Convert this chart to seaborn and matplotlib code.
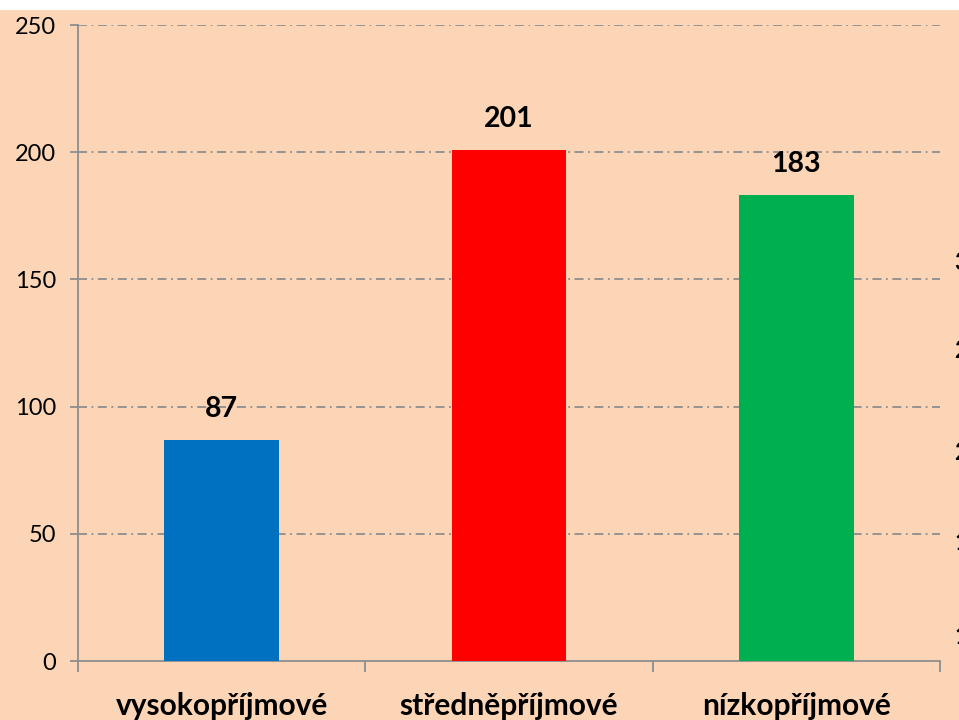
import matplotlib
matplotlib.use("Agg")
import matplotlib.pyplot as plt
import seaborn as sns
from matplotlib.patches import Rectangle

categories = ["vysokopříjmové", "středněpříjmové", "nízkopříjmové"]
values = [87, 201, 183]
colors = ["#0070C0", "#FF0000", "#00B050"]
yticks = [0, 50, 100, 150, 200, 250]
edge_labels = ["3", "2", "2", "1", "1"]

sns.set_theme(style="white")
plt.rcParams["font.family"] = ["Lato", "DejaVu Sans"]
plt.rcParams["text.color"] = "black"
plt.rcParams["xtick.color"] = "black"
plt.rcParams["ytick.color"] = "black"

bg = "#FBD5B5"
grid_c = "#8E8E8E"

fig = plt.figure(figsize=(9.59, 7.2), dpi=100)
fig.patch.set_facecolor("white")
fig.patches.append(Rectangle((0, 0), 1, 710 / 720, transform=fig.transFigure,
                             facecolor=bg, edgecolor="none", zorder=-10))

ax = fig.add_axes([78 / 959, 59 / 720, (940 - 78) / 959, (661 - 25) / 720])
ax.set_facecolor("none")

sns.barplot(x=categories, y=values, hue=categories, palette=colors,
            width=0.4, legend=False, ax=ax, saturation=1, zorder=3,
            linewidth=0, edgecolor="none")

ax.set_xlim(-0.5, 2.5)
ax.set_ylim(0, 250)
ax.set_yticks(yticks)
ax.set_yticklabels([str(t) for t in yticks], fontsize=17, color="black")

for t in yticks[1:]:
    ax.axhline(t, color=grid_c, lw=1.3, dashes=(5, 2.5, 1, 2.5), zorder=1)

ax.set_xticks([-0.5, 0.5, 1.5, 2.5])
ax.set_xticklabels([])
ax.set_xticks([0, 1, 2], minor=True)
ax.set_xticklabels(categories, minor=True, fontsize=21.5, fontweight="bold",
                   color="black")
ax.tick_params(axis="x", which="major", direction="out", length=8, width=1.3,
               color=grid_c, bottom=True)
ax.tick_params(axis="x", which="minor", length=0, pad=22, bottom=True)
ax.tick_params(axis="y", direction="out", length=6, width=1.3, color=grid_c,
               left=True, pad=10)

for s in ["top", "right"]:
    ax.spines[s].set_visible(False)
for s in ["left", "bottom"]:
    ax.spines[s].set_color(grid_c)
    ax.spines[s].set_linewidth(1.3)
ax.set_xlabel("")
ax.set_ylabel("")

for c in ax.containers:
    ax.bar_label(c, fmt="%d", padding=13, fontsize=20.5, fontweight="bold",
                 color="black")

for lab, ypx in zip(edge_labels, [263, 350, 453, 543, 637]):
    fig.text(954 / 959, 1 - ypx / 720, lab, fontsize=17, fontweight="bold",
             ha="left", va="center", color="black")

fig.savefig("out.png", dpi=100, facecolor=fig.get_facecolor())
